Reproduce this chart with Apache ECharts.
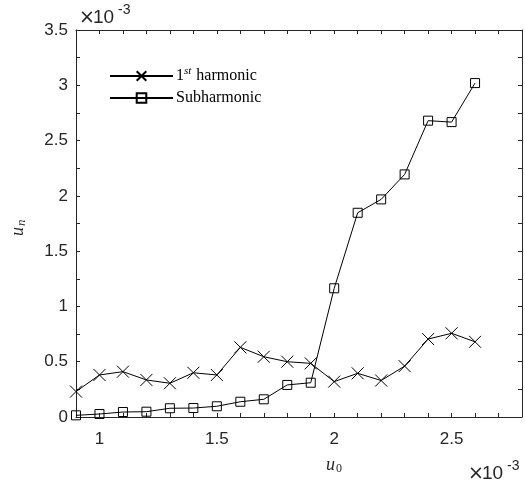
<!DOCTYPE html>
<html>
<head>
<meta charset="utf-8">
<script src="https://cdn.jsdelivr.net/npm/echarts@6/dist/echarts.min.js"></script>
<style>
html, body { margin: 0; padding: 0; background: #fff; }
#main { width: 525px; height: 488px; }
</style>
</head>
<body>
<div id="main"></div>
<script>
// values in units of 1e-3
var u0 = [0.9, 1.0, 1.1, 1.2, 1.3, 1.4, 1.5, 1.6, 1.7, 1.8, 1.9, 2.0, 2.1, 2.2, 2.3, 2.4, 2.5, 2.6];
var firstHarmonic = [0.23, 0.38, 0.41, 0.335, 0.305, 0.40, 0.38, 0.63, 0.545, 0.50, 0.485, 0.32, 0.395, 0.33, 0.46, 0.705, 0.757, 0.68];
var subHarmonic = [0.015, 0.027, 0.045, 0.048, 0.079, 0.081, 0.097, 0.138, 0.16, 0.29, 0.31, 1.164, 1.847, 1.968, 2.194, 2.68, 2.667, 3.02];
var seriesNames = ['1st harmonic', 'Subharmonic'];

function pairs(xs, ys) {
    return xs.map(function (x, i) { return [x, ys[i]]; });
}

var axisColor = '#262626';
var sans = 'Liberation Sans, Arial, sans-serif';
var serif = 'Liberation Serif, serif';
var tickFont = { color: axisColor, fontSize: 17, fontFamily: sans };
var crossPath = 'path://M0,0L10,10M10,0L0,10';

function txt(x, y, s, size, font, italic) {
    return {
        type: 'text', x: x, y: y,
        style: { text: s, fontSize: size, fontFamily: font, fontStyle: italic ? 'italic' : 'normal', fill: axisColor, verticalAlign: 'middle' }
    };
}

// "×10^-3" multiplier label at (x, y)
function expLabel(x, y) {
    return [
        txt(x, y, '×', 19, 'DejaVu Sans, sans-serif', false),
        txt(x + 14, y, '10', 19, sans, false),
        txt(x + 39, y - 8, '-3', 14, sans, false)
    ];
}

var myChart = echarts.init(document.getElementById('main'));
option = {
    animation: false,
    backgroundColor: '#fff',
    grid: { left: 76, right: -2, top: 30, bottom: 71 },
    legend: {
        left: 104,
        top: 61,
        orient: 'vertical',
        itemWidth: 63,
        itemHeight: 12,
        itemGap: 6,
        data: seriesNames,
        formatter: function (name) {
            if (name === seriesNames[0]) return '{n|1}{s|st} {n|harmonic}';
            return '{n|Subharmonic}';
        },
        textStyle: {
            color: '#000',
            fontFamily: serif,
            fontSize: 16,
            padding: [0, 0, 0, -2],
            rich: {
                n: { fontSize: 16, fontFamily: serif, color: '#000' },
                s: { fontSize: 11, fontStyle: 'italic', fontFamily: serif, color: '#000', verticalAlign: 'bottom', padding: [0, 1, 9, 0] }
            }
        }
    },
    xAxis: [{
        type: 'value',
        min: 0.9,
        max: 2.8,
        interval: 0.1,
        axisLine: { onZero: false, lineStyle: { color: axisColor, width: 1 } },
        axisTick: { inside: true, length: 4, lineStyle: { color: axisColor } },
        splitLine: { show: false },
        axisLabel: Object.assign({
            margin: 14,
            formatter: function (v) {
                return Math.abs(v * 2 - Math.round(v * 2)) < 1e-6 ? String(Math.round(v * 10) / 10) : '';
            }
        }, tickFont)
    }, {
        type: 'value',
        position: 'top',
        min: 0.9,
        max: 2.8,
        interval: 0.1,
        axisLine: { onZero: false, lineStyle: { color: axisColor, width: 1 } },
        axisTick: { inside: true, length: 4, lineStyle: { color: axisColor } },
        axisLabel: { show: false },
        splitLine: { show: false }
    }],
    yAxis: [{
        type: 'value',
        min: 0,
        max: 3.5,
        interval: 0.5,
        axisLine: { show: true, onZero: false, lineStyle: { color: axisColor, width: 1 } },
        axisTick: { show: true, inside: true, length: 4, lineStyle: { color: axisColor } },
        minorTick: { show: true, splitNumber: 2, length: 4, lineStyle: { color: axisColor } },
        splitLine: { show: false },
        axisLabel: Object.assign({ margin: 8 }, tickFont)
    }, {
        type: 'value',
        position: 'right',
        min: 0,
        max: 3.5,
        interval: 0.5,
        axisLine: { show: true, onZero: false, lineStyle: { color: axisColor, width: 1 } },
        axisTick: { show: true, inside: true, length: 4, lineStyle: { color: axisColor } },
        minorTick: { show: true, splitNumber: 2, length: 4, lineStyle: { color: axisColor } },
        axisLabel: { show: false },
        splitLine: { show: false }
    }],
    graphic: expLabel(79, 18).concat(expLabel(468, 474)).concat([
        // x axis name
        txt(326, 465, 'u', 18, serif, true),
        txt(336, 469, '0', 12, serif, false),
        // y axis name, rotated
        {
            type: 'group', x: 18, y: 236, rotation: Math.PI / 2,
            children: [
                txt(0, 0, 'u', 18, serif, true),
                txt(10, 4, 'n', 13, serif, true)
            ]
        }
    ]),
    series: [{
        name: seriesNames[0],
        type: 'line',
        data: pairs(u0, firstHarmonic),
        symbol: crossPath,
        symbolSize: 12,
        showAllSymbol: true,
        lineStyle: { color: '#000', width: 1 },
        itemStyle: { color: 'rgba(0,0,0,0)', borderColor: '#000', borderWidth: 1 },
        z: 3
    }, {
        name: seriesNames[1],
        type: 'line',
        data: pairs(u0, subHarmonic),
        symbol: 'rect',
        symbolSize: 9,
        showAllSymbol: true,
        lineStyle: { color: '#000', width: 1 },
        itemStyle: { color: 'rgba(0,0,0,0)', borderColor: '#000', borderWidth: 1 },
        z: 2
    }]
};
myChart.setOption(option, true);
</script>
</body>
</html>
